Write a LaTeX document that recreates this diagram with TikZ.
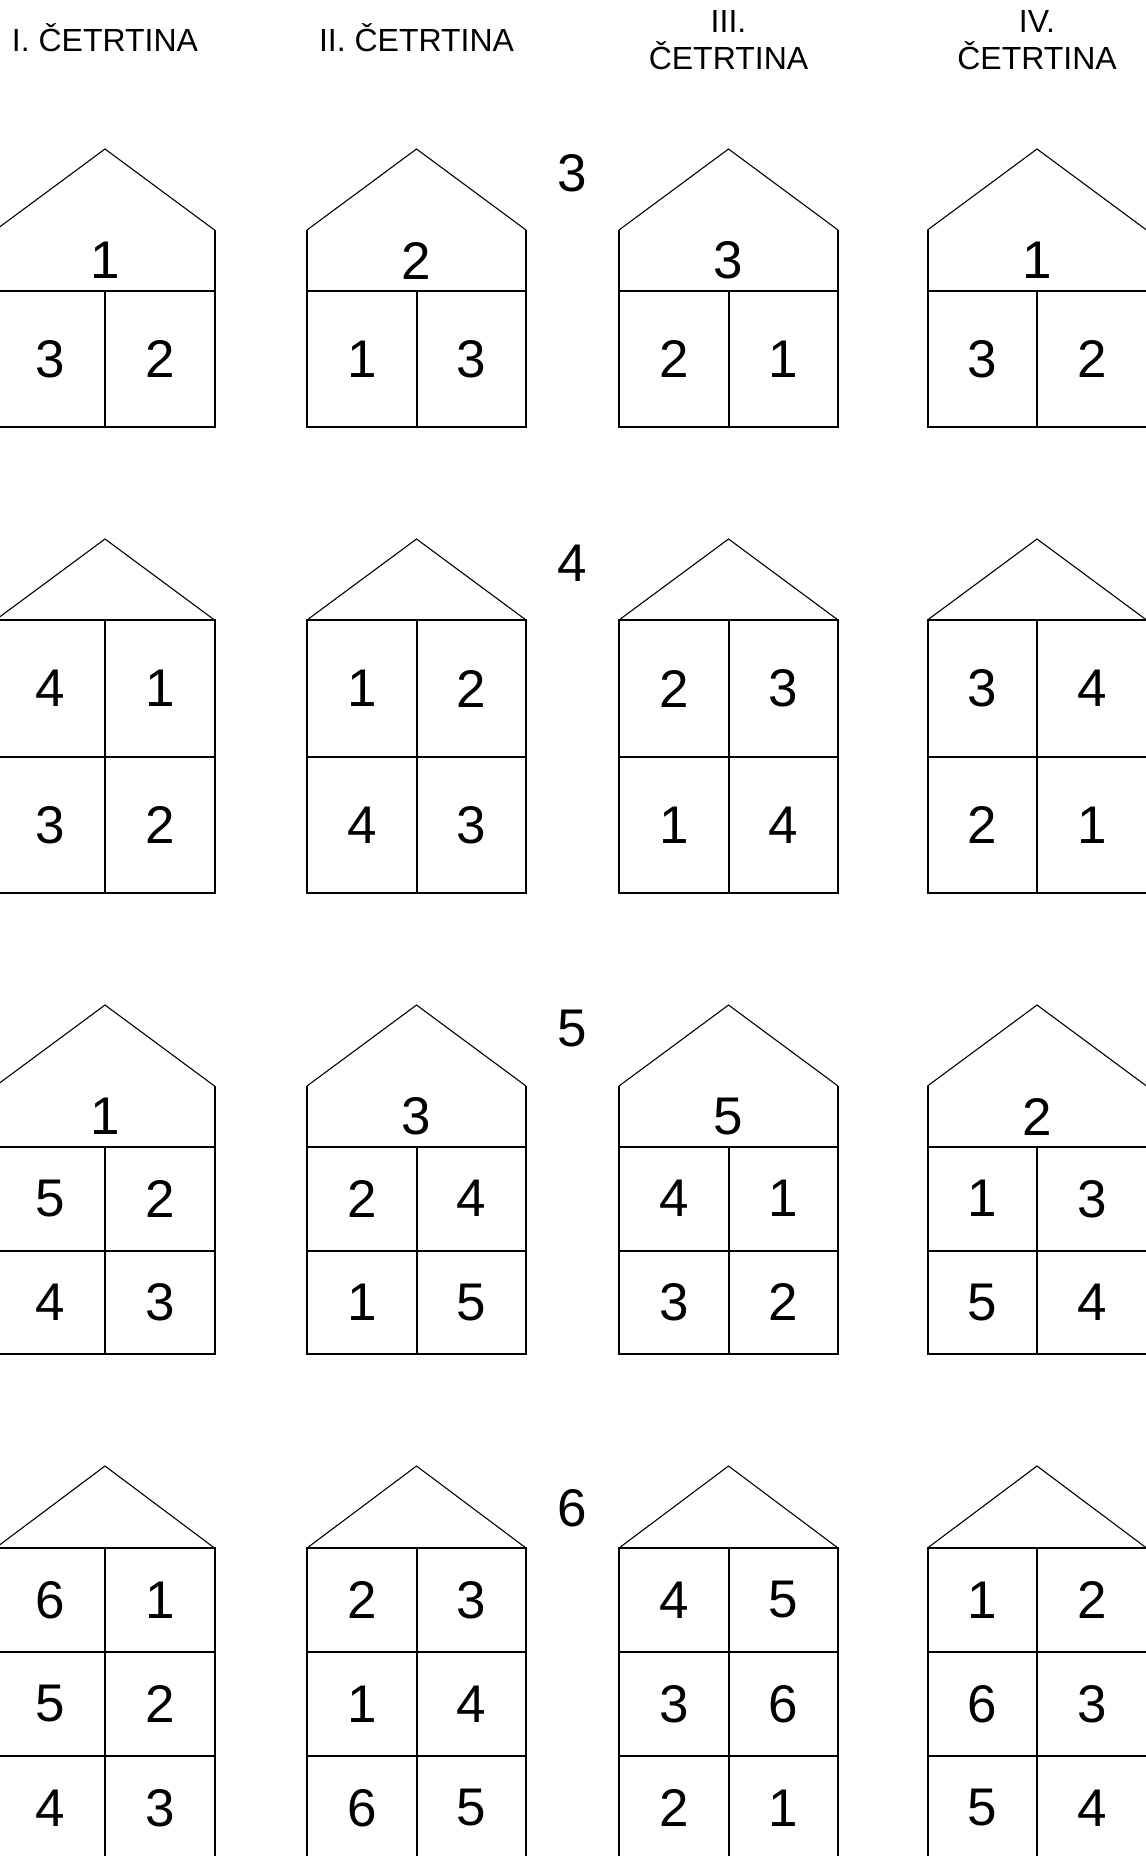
\documentclass[tikz,border=0pt]{standalone}
\usepackage{fontspec}
\setmainfont{Liberation Sans}

\tikzset{
  wall/.style={line width=1pt},
  roof/.style={line width=0.55pt},
  digit/.style={font=\fontsize{26.5}{30}\selectfont, inner sep=0pt},
  heading/.style={font=\fontsize{16}{18.5}\selectfont, align=center, inner sep=0pt},
}

\begin{document}
\begin{tikzpicture}[x=0.5pt,y=-0.5pt]
  \useasboundingbox (0,0) rectangle (1145,1856);

  % Headings
  \node[heading, anchor=base] (q1) at (105,52) {I. ČETRTINA};
  \node[heading, anchor=base] (q2) at (416.5,52) {II. ČETRTINA};
  \node[heading] (q3) at (728.5,40) {III.\\ČETRTINA};
  \node[heading] (q4) at (1037,40) {IV.\\ČETRTINA};

  % Numbers between the houses
  \node[digit] (n3) at (572.5,173) {3};
  \node[digit] (n4) at (572.5,563) {4};
  \node[digit] (n5) at (572.5,1029) {5};
  \node[digit] (n6) at (572.5,1508) {6};

  % Houses for 3
  \foreach \x/\t/\a/\b [count=\i] in {105/1/3/2, 416.5/2/1/3, 728.5/3/2/1, 1037/1/3/2} {
    \draw[roof] (\x-109.5,230) -- (\x,149) -- (\x+109.5,230);
    \draw[wall] (\x-109.5,230) |- (\x+109.5,427) -- (\x+109.5,230);
    \draw[wall] (\x-109.5,291) -- (\x+109.5,291) (\x,291) -- (\x,427);
    \node[digit] (h3-\i-t) at (\x,260.5) {\t};
    \node[digit] (h3-\i-a) at (\x-54.75,359) {\a};
    \node[digit] (h3-\i-b) at (\x+54.75,359) {\b};
  }

  % Houses for 4
  \foreach \x/\a/\b/\c/\d [count=\i] in {105/4/1/3/2, 416.5/1/2/4/3, 728.5/2/3/1/4, 1037/3/4/2/1} {
    \draw[roof] (\x-109.5,620) -- (\x,539) -- (\x+109.5,620);
    \draw[wall] (\x-109.5,620) rectangle (\x+109.5,893);
    \draw[wall] (\x-109.5,757) -- (\x+109.5,757) (\x,620) -- (\x,893);
    \node[digit] (h4-\i-a) at (\x-54.75,688.5) {\a};
    \node[digit] (h4-\i-b) at (\x+54.75,688.5) {\b};
    \node[digit] (h4-\i-c) at (\x-54.75,825) {\c};
    \node[digit] (h4-\i-d) at (\x+54.75,825) {\d};
  }

  % Houses for 5
  \foreach \x/\t/\a/\b/\c/\d [count=\i] in {105/1/5/2/4/3, 416.5/3/2/4/1/5, 728.5/5/4/1/3/2, 1037/2/1/3/5/4} {
    \draw[roof] (\x-109.5,1086) -- (\x,1005) -- (\x+109.5,1086);
    \draw[wall] (\x-109.5,1086) |- (\x+109.5,1354) -- (\x+109.5,1086);
    \draw[wall] (\x-109.5,1147) -- (\x+109.5,1147) (\x-109.5,1250.5) -- (\x+109.5,1250.5) (\x,1147) -- (\x,1354);
    \node[digit] (h5-\i-t) at (\x,1116.5) {\t};
    \node[digit] (h5-\i-a) at (\x-54.75,1198.75) {\a};
    \node[digit] (h5-\i-b) at (\x+54.75,1198.75) {\b};
    \node[digit] (h5-\i-c) at (\x-54.75,1302.25) {\c};
    \node[digit] (h5-\i-d) at (\x+54.75,1302.25) {\d};
  }

  % Houses for 6
  \foreach \x/\a/\b/\c/\d/\e/\f [count=\i] in {105/6/1/5/2/4/3, 416.5/2/3/1/4/6/5, 728.5/4/5/3/6/2/1, 1037/1/2/6/3/5/4} {
    \draw[roof] (\x-109.5,1548) -- (\x,1466) -- (\x+109.5,1548);
    \draw[wall] (\x-109.5,1548) rectangle (\x+109.5,1860);
    \draw[wall] (\x-109.5,1652) -- (\x+109.5,1652) (\x-109.5,1756) -- (\x+109.5,1756) (\x,1548) -- (\x,1860);
    \node[digit] (h6-\i-a) at (\x-54.75,1600) {\a};
    \node[digit] (h6-\i-b) at (\x+54.75,1600) {\b};
    \node[digit] (h6-\i-c) at (\x-54.75,1704) {\c};
    \node[digit] (h6-\i-d) at (\x+54.75,1704) {\d};
    \node[digit] (h6-\i-e) at (\x-54.75,1808) {\e};
    \node[digit] (h6-\i-f) at (\x+54.75,1808) {\f};
  }
\end{tikzpicture}
\end{document}
